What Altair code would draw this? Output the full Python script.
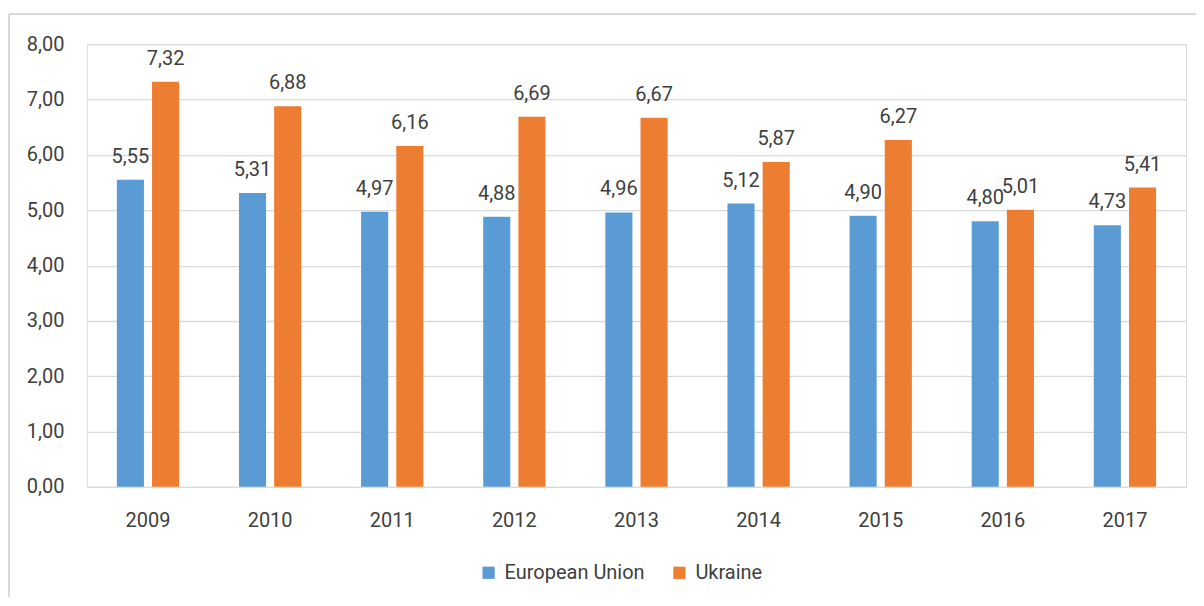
import altair as alt
import pandas as pd

years = ["2009", "2010", "2011", "2012", "2013", "2014", "2015", "2016", "2017"]
eu = [5.55, 5.31, 4.97, 4.88, 4.96, 5.12, 4.90, 4.80, 4.73]
ua = [7.32, 6.88, 6.16, 6.69, 6.67, 5.87, 6.27, 5.01, 5.41]
series = ["European Union", "Ukraine"]
colors = ["#5B9BD5", "#ED7D31"]
y_ticks = [0, 1, 2, 3, 4, 5, 6, 7, 8]

rows = []
for y, a, b in zip(years, eu, ua):
    rows.append({"year": y, "series": series[0], "value": a})
    rows.append({"year": y, "series": series[1], "value": b})
df = pd.DataFrame(rows)

FONT = "Roboto"
TXT = "#404040"

W, H = 1100, 443

base = alt.Chart(df).encode(
    x=alt.X("year:N", sort=years,
            scale=alt.Scale(paddingInner=0.49, paddingOuter=0.245),
            axis=alt.Axis(title=None, labelAngle=0, ticks=False, domain=False, grid=False,
                          labelFontSize=20, labelColor=TXT, labelFont=FONT,
                          labelPadding=24, labelBaseline="top")),
    xOffset=alt.XOffset("series:N", sort=series,
                        scale=alt.Scale(paddingInner=0.23, paddingOuter=0)),
)

bars = base.mark_bar().encode(
    y=alt.Y("value:Q", scale=alt.Scale(domain=[0, 8], nice=False),
            axis=alt.Axis(title=None, values=y_ticks, ticks=False, domain=False,
                          labelExpr="replace(format(datum.value, '.2f'), '.', ',')",
                          labelFontSize=20, labelColor=TXT, labelFont=FONT,
                          labelPadding=23, gridColor="#D9D9D9", gridWidth=1.3)),
    color=alt.Color("series:N", sort=series,
                    scale=alt.Scale(domain=series, range=colors),
                    legend=alt.Legend(title=None, orient="none", direction="horizontal",
                                      legendX=392, legendY=519,
                                      symbolType="square", symbolSize=150,
                                      symbolStrokeWidth=0,
                                      labelFontSize=20, labelColor=TXT, labelFont=FONT,
                                      columnPadding=24, labelOffset=6)),
)

labels = base.mark_text(baseline="alphabetic", dy=-17, fontSize=20, color=TXT,
                        font=FONT).transform_calculate(
    lab="replace(format(datum.value, '.2f'), '.', ',')"
).encode(
    y=alt.Y("value:Q"),
    text=alt.Text("lab:N"),
)

frame_top = alt.Chart(df).mark_rule(color="#D9D9D9", strokeWidth=1.5).encode(
    x=alt.value(-78), x2=alt.value(1125), y=alt.value(-30))
frame_left = alt.Chart(df).mark_rule(color="#D9D9D9", strokeWidth=1.5).encode(
    x=alt.value(-78), y=alt.value(-30), y2=alt.value(560))

chart = alt.layer(frame_top, frame_left, bars, labels).properties(
    width=W, height=H,
    autosize=alt.AutoSizeParams(type="none"),
    padding={"left": 79, "top": 36, "right": 10, "bottom": 110},
).configure_view(strokeWidth=0, stroke="transparent").configure(background="white")

chart.save("out.html", embed_options={"renderer": "svg", "actions": False})
